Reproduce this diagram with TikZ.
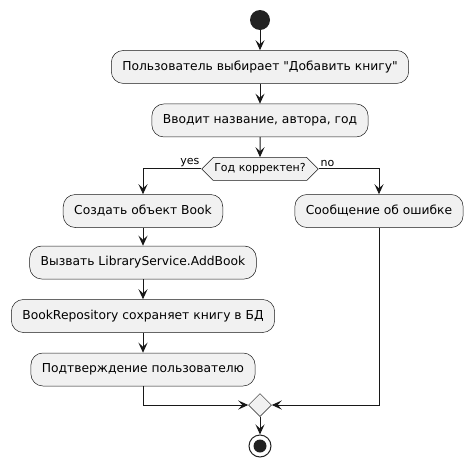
\documentclass[tikz,border=0pt]{standalone}
\usepackage{fontspec}
\setmainfont{DejaVu Sans}[Ligatures=TeXOff]
\usetikzlibrary{shapes.geometric,shapes.symbols,arrows.meta,positioning}
\definecolor{NodeFill}{HTML}{F1F1F1}
\definecolor{LineDark}{HTML}{181818}
\definecolor{DotDark}{HTML}{222222}
\tikzset{
  act/.style={rectangle,rounded corners=12pt,draw=LineDark,fill=NodeFill,
              line width=0.5pt,minimum height=33pt,inner xsep=11pt,
              font=\fontsize{12.3}{14}\selectfont},
  decide/.style={signal,signal to=east and west,signal pointer angle=90,
                 draw=LineDark,fill=NodeFill,line width=0.5pt,
                 minimum height=23pt,inner xsep=1pt,
                 font=\fontsize{11}{13}\selectfont},
  mergebox/.style={diamond,draw=LineDark,fill=NodeFill,line width=0.5pt,
                   minimum size=23pt,inner sep=0pt},
  startdot/.style={circle,fill=DotDark,minimum size=20pt,inner sep=0pt},
  stopdot/.style={circle,draw=DotDark,line width=1pt,minimum size=22pt,inner sep=0pt,
                  path picture={\fill[DotDark] (path picture bounding box.center) circle (6.5pt);}},
  arr/.style={-{Stealth[length=10pt,width=9pt,inset=4pt]},line width=1pt,draw=LineDark},
  lbl/.style={font=\fontsize{11}{13}\selectfont,inner sep=1.5pt}
}
\begin{document}
\begin{tikzpicture}[x=1pt,y=-1pt,node distance=20pt]
  \useasboundingbox (0,0) rectangle (474,469);
  \node[startdot] (start) at (260,20) {};
  \node[act,below=20pt of start] (choose) {Пользователь выбирает "Добавить книгу"};
  \node[act,below=of choose] (enter) {Вводит название, автора, год};
  \node[decide,below=of enter] (check) {Год корректен?};

  % yes branch
  \node[act] (create) at (143,211) {Создать объект Book};
  \node[act,below=18pt of create] (call) {Вызвать LibraryService.AddBook};
  \node[act,below=of call] (save) {BookRepository сохраняет книгу в БД};
  \node[act,below=of save] (confirm) {Подтверждение пользователю};

  % no branch
  \node[act] (error) at (379,211) {Сообщение об ошибке};

  \node[mergebox] (merge) at (260,405) {};
  \node[stopdot] (stop) at (260,446) {};

  \draw[arr] (start) -- (choose);
  \draw[arr] (choose) -- (enter);
  \draw[arr] (enter) -- (check);
  \draw[arr] (check.west) node[lbl,above left] {yes} -| (create);
  \draw[arr] (check.east) node[lbl,above right] {no} -| (error);
  \draw[arr] (create) -- (call);
  \draw[arr] (call) -- (save);
  \draw[arr] (save) -- (confirm);
  \draw[arr] (confirm) |- (merge);
  \draw[arr] (error) |- (merge);
  \draw[arr] (merge) -- (stop);
\end{tikzpicture}
\end{document}
